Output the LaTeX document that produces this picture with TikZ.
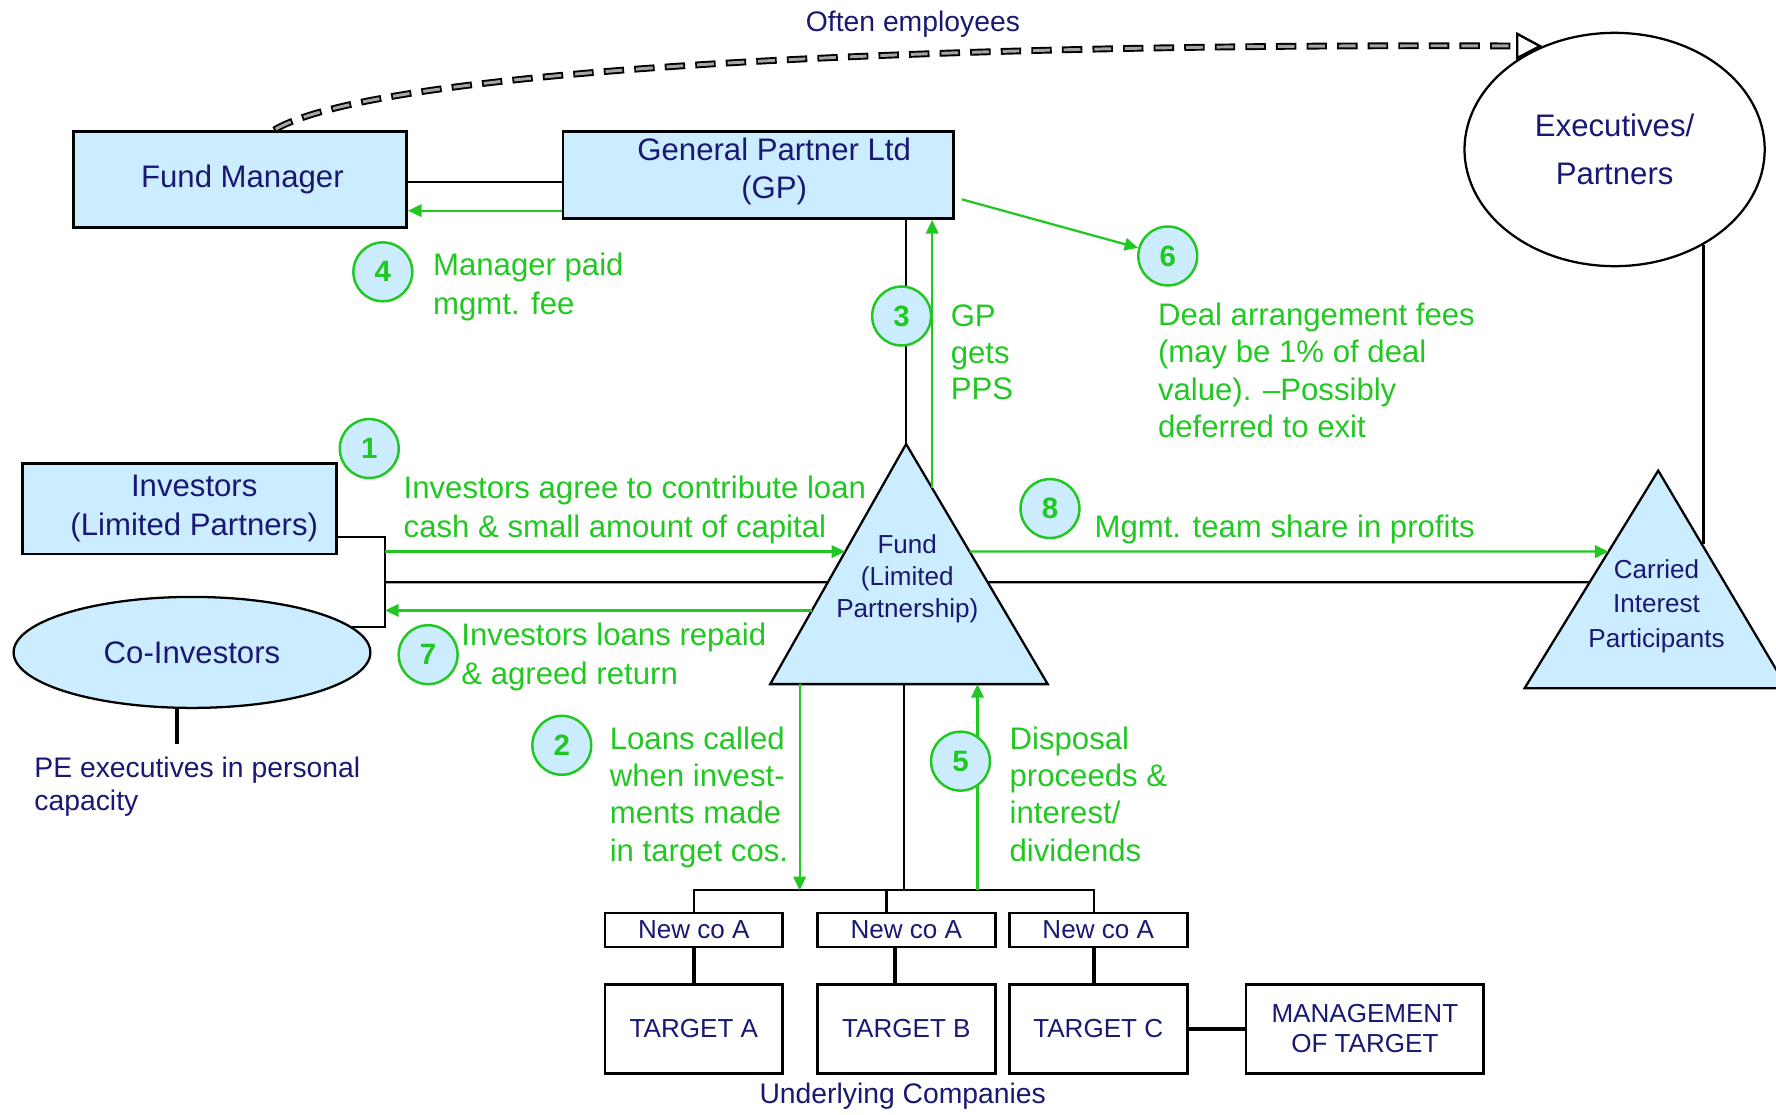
\documentclass[tikz,border=0pt]{standalone}
\usepackage{fontspec}
\setmainfont{Liberation Sans}
\usetikzlibrary{shapes.geometric,arrows.meta,calc}
\definecolor{navy}{RGB}{25,25,115}
\definecolor{grn}{RGB}{34,200,34}
\definecolor{lblue}{RGB}{204,236,255}
\begin{document}
\begin{tikzpicture}[x=0.5pt,y=-0.5pt,
  fnt/.style={font=\fontsize{13.75}{17}\selectfont},
  sfnt/.style={font=\fontsize{11.5}{14.25}\selectfont},
  box/.style={draw=black, line width=1.2pt, fill=lblue, text=navy, align=center, inner sep=0pt, fnt},
  wbox/.style={draw=black, line width=1.2pt, fill=white, text=navy, align=center, inner sep=0pt, sfnt},
  numc/.style={circle, draw=grn, line width=1.1pt, fill=lblue, text=grn, minimum size=26pt, inner sep=0pt, font=\fontsize{13}{13}\bfseries\selectfont},
  gtext/.style={text=grn, align=left, anchor=north west, inner sep=0pt},
  ntext/.style={text=navy, inner sep=0pt, font=\fontsize{12.5}{14.5}\selectfont},
  blk/.style={draw=black, line width=1pt},
  thk/.style={draw=black, line width=1.8pt},
  garrow/.style={draw=grn, line width=1pt, -{Triangle[length=6pt,width=5.5pt]}},
  tri/.style={draw=black, line width=1pt, fill=lblue, line join=miter},
  often/.style={preaction={draw=black, line width=3pt, dash pattern=on 9pt off 4.5pt, dash phase=0pt},
     draw=black!35, line width=1.3pt, dash pattern=on 7.4pt off 6.1pt, dash phase=12.7pt,
     -{Triangle[color=black, fill=white, line width=1pt, length=11.5pt, width=12pt]}}
]
\useasboundingbox (0,0) rectangle (1568,984);
\clip (0,0) rectangle (1568,984);

% triangle corners and named points
\coordinate (fa) at (800,392);
\coordinate (fl) at (680,604);
\coordinate (fr) at (925,604);
\coordinate (ca) at (1464,415.5);
\coordinate (cl) at (1346,607.7);
\coordinate (cr) at (1578,607.7);
\coordinate (br) at (340,514);
\coordinate (fL1) at ($(fa)!0.448!(fl)$);
\coordinate (fR1) at ($(fa)!0.448!(fr)$);
\coordinate (fL2) at ($(fa)!0.693!(fl)$);
\coordinate (fR3) at ($(fa)!0.184!(fr)$);
\coordinate (cL1) at ($(ca)!0.372!(cl)$);
\coordinate (cL2) at ($(ca)!0.5125!(cl)$);
\coordinate (cR1) at ($(ca)!0.336!(cr)$);
\coordinate (fb) at (798,604);
\coordinate (fd) at (706,604);
\coordinate (fu) at (863,604);
\coordinate (bus) at (612.5,786);
\coordinate (pet) at (156,657);

% line through the fund behind triangles
\draw[blk] (br) -- (cL2);

% triangles
\filldraw[tri] (fa) -- (fl) -- (fr) -- cycle;
\filldraw[tri] (ca) -- (cl) -- (cr) -- cycle;
\node[text=navy, sfnt, align=center, inner sep=0pt] (fundtxt) at (801,511) {Fund\\(Limited\\Partnership)};
\node[text=navy, font=\fontsize{11.5}{15.25}\selectfont, align=center, inner sep=0pt] (cit) at (1462.5,535) {Carried\\Interest\\Participants};

% main nodes
\node[box, minimum width=147pt, minimum height=42.5pt] (fm) at (212,158.5) {\hspace*{2pt}Fund Manager};
\node[box, minimum width=172.5pt, minimum height=38.5pt,
  label={[text=navy, fnt, align=center, inner sep=0pt, xshift=7pt, yshift=1.5pt]center:General Partner Ltd\\(GP)}] (gp) at (669.5,154.5) {};
\node[ellipse, draw=black, line width=1pt, fill=white, minimum width=132.5pt, minimum height=103pt, inner sep=0pt,
  text=navy, align=center, font=\fontsize{13.75}{21}\selectfont] (ex) at (1425.5,132) {Executives/\\Partners};
\node[box, minimum width=138.5pt, minimum height=40pt,
  label={[text=navy, fnt, align=center, inner sep=0pt, xshift=6.5pt]center:Investors\\(Limited Partners)}] (inv) at (158.5,449) {};
\node[box, ellipse, line width=1pt, minimum width=157.5pt, minimum height=49pt] (coi) at (169.5,576) {Co-Investors};

\node[wbox, minimum width=78.5pt, minimum height=15pt] (n1) at (612.6,821) {New co A};
\node[wbox, minimum width=78.5pt, minimum height=15pt] (n2) at (800.2,821) {New co A};
\node[wbox, minimum width=78.5pt, minimum height=15pt] (n3) at (969.6,821) {New co A};
\node[wbox, minimum width=78.5pt, minimum height=39.3pt] (t1) at (612.6,908.2) {TARGET A};
\node[wbox, minimum width=78.5pt, minimum height=39.3pt] (t2) at (800.2,908.2) {TARGET B};
\node[wbox, minimum width=78.5pt, minimum height=39.3pt] (t3) at (969.6,908.2) {TARGET C};
\node[wbox, minimum width=105pt, minimum height=39.3pt, font=\fontsize{11.5}{13.5}\selectfont] (mg) at (1205,908.2) {MANAGEMENT\\OF TARGET};

% black connectors
\coordinate (gpw1) at ([yshift=-3.25pt]gp.west);
\coordinate (gpw2) at ([yshift=-15.75pt]gp.west);
\coordinate (gpe) at ([shift={(3pt,-10.75pt)}]gp.east);
\coordinate (invb) at ([yshift=-12.5pt]inv.east);
\coordinate (cod) at ([xshift=-6.75pt]coi.south);
\draw[blk] (gpw1) -- (gpw1 -| fm.east);
\draw[blk] (invb) -| (br) |- (coi.9);
\draw[thk] (cod) -- (pet);
\draw[blk] (fa |- gp.south) -- (fa);
\draw[blk] (ex.-47) -- (ex.-47 |- cR1);
\draw[blk] (fb) -- (fb |- bus);
\coordinate (d1) at (n1.north);
\coordinate (d2) at ([xshift=-8.8pt]n2.north);
\coordinate (d3) at ([xshift=-1.8pt]n3.north);
\draw[blk] (d1) -- (d1 |- bus) -- (d3 |- bus) -- (d3);
\draw[blk] (d2) -- (d2 |- bus);
\coordinate (n2s) at ([xshift=-4.85pt]n2.south);
\coordinate (n3s) at ([xshift=-2pt]n3.south);
\draw[thk] (n1.south) -- (t1.north);
\draw[thk] (n2s) -- (n2s |- t2.north);
\draw[thk] (n3s) -- (n3s |- t3.north);
\draw[thk] (t3.east) -- (mg.west);

% dashed arrow
\draw[often] ([xshift=15pt]fm.north) .. controls (330,62) and (800,38) .. (ex.125);

% circles
\node[numc] (c1) at (326,396) {1};
\node[numc] (c2) at (496,658) {2};
\node[numc] (c4) at (338,240) {4};
\node[numc] (c6) at (1031,226) {6};
\node[numc] (c7) at (378,578) {7};
\node[numc] (c8) at (927,449) {8};

% green arrows
\draw[garrow] (gpw2) -- (gpw2 -| fm.east);
\draw[garrow] (gpe) -- (c6);
\draw[garrow] (br |- fL1) -- (fL1);
\draw[garrow] (fR1) -- (cL1);
\draw[garrow] (fL2) -- (br |- fL2);
\draw[garrow] (fR3) -- (fR3 |- gp.south);
\draw[garrow] (fd) -- (fd |- bus);
\draw[garrow] (fu |- bus) -- (fu);
\node[numc] (c3) at (796,279) {3};
\node[numc] (c5) at (848,672) {5};

% green texts
\node[gtext, fnt] (g4) at (382,223) {Manager paid\\mgmt. fee};
\node[gtext, font=\fontsize{13.75}{16}\selectfont] (g3) at (839,269) {GP\\gets\\PPS};
\node[gtext, font=\fontsize{13.75}{16.5}\selectfont] (g6) at (1022,267) {Deal arrangement fees\\(may be 1\% of deal\\value). –Possibly\\deferred to exit};
\node[gtext, fnt] (g1) at (356,420) {Investors agree to contribute loan\\cash \& small amount of capital};
\node[gtext, fnt] (g7) at (407,550) {Investors loans repaid\\\& agreed return};
\node[gtext, fnt] (g8) at (966,454) {Mgmt. team share in profits};
\node[gtext, font=\fontsize{13.75}{16.5}\selectfont] (g2) at (538,641) {Loans called\\when invest-\\ments made\\in target cos.};
\node[gtext, font=\fontsize{13.75}{16.5}\selectfont] (g5) at (891,641) {Disposal\\proceeds \&\\interest/\\dividends};

% navy texts
\node[ntext] (often) at (806,21) {Often employees};
\node[ntext, anchor=north west, align=left] (pe) at (30,668) {PE executives in personal\\capacity};
\node[ntext] (under) at (797,968) {Underlying Companies};
\end{tikzpicture}
\end{document}
